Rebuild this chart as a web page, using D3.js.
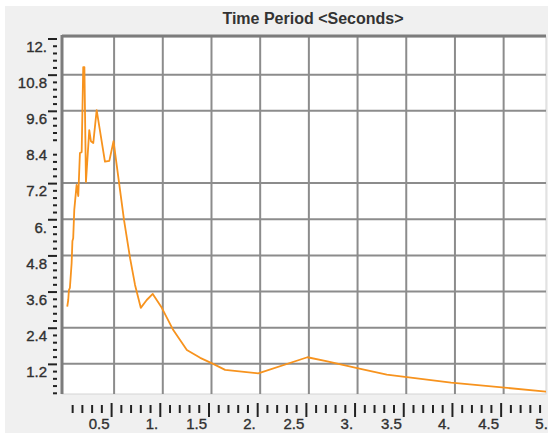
<!DOCTYPE html>
<html>
<head>
<meta charset="utf-8">
<script src="https://cdn.jsdelivr.net/npm/d3@7/dist/d3.min.js"></script>
<style>
  body { margin: 0; background: #ffffff; }
  text { font-family: "Liberation Sans", Arial, sans-serif; fill: #333; }
</style>
</head>
<body>
<svg id="chart"></svg>
<script>
// period (s) and spectral value
const periods = [0.019, 0.029, 0.036, 0.046, 0.064, 0.072, 0.080, 0.091, 0.115, 0.132,
  0.149, 0.167, 0.183, 0.195, 0.211, 0.245, 0.262, 0.286, 0.321, 0.406, 0.451, 0.494,
  0.602, 0.664, 0.715, 0.774, 0.835, 0.897, 0.990, 1.106, 1.247, 1.384, 1.517, 1.640,
  1.980, 2.485, 2.690, 3.030, 3.300, 3.960, 4.935];
const values = [3.10, 3.32, 3.65, 3.72, 4.55, 5.28, 5.37, 6.31, 7.14, 6.77,
  8.20, 8.23, 11.05, 11.05, 7.24, 8.96, 8.59, 8.53, 9.62, 7.91, 7.94, 8.59,
  5.97, 4.71, 3.82, 3.06, 3.32, 3.52, 3.06, 2.33, 1.66, 1.40, 1.20, 1.00,
  0.885, 1.42, 1.28, 1.03, 0.84, 0.58, 0.28];

const xTickValues = [0.5, 1, 1.5, 2, 2.5, 3, 3.5, 4, 4.5, 5];
const xTickLabels = ["0.5", "1.", "1.5", "2.", "2.5", "3.", "3.5", "4.", "4.5", "5."];
const xGridValues = [0.5, 1, 1.5, 2, 2.5, 3, 3.5, 4, 4.5];
const yTickValues = [12, 10.8, 9.6, 8.4, 7.2, 6, 4.8, 3.6, 2.4, 1.2];
const yTickLabels = ["12.", "10.8", "9.6", "8.4", "7.2", "6.", "4.8", "3.6", "2.4", "1.2"];
const yMajorTicks = [12, 10.8, 9.6, 7.2, 6, 4.8, 3.6, 2.4, 1.2];
const yGridValues = [10.8, 9.6, 7.2, 6, 4.8, 3.6, 2.4, 1.2];

const width = 553;
const height = 433;
const plot = { left: 62, right: 546, top: 37, bottom: 394 };

const svg = d3.select("#chart").attr("width", width).attr("height", height);

// grey panel
svg.append("rect")
  .attr("x", 5).attr("y", 6)
  .attr("width", 543).attr("height", height - 6)
  .attr("fill", "#f0f0f0");

const x = d3.scaleLinear().domain([-0.035, 4.935]).range([plot.left, plot.right]);
const y = d3.scaleLinear().domain([0.2, 12.05]).range([plot.bottom, plot.top]);

// plot background
svg.append("rect")
  .attr("x", plot.left).attr("y", plot.top)
  .attr("width", plot.right - plot.left).attr("height", plot.bottom - plot.top)
  .attr("fill", "#fff")
  .attr("stroke", "#d4d4d4");

// grid
svg.append("g")
  .selectAll("line")
  .data(xGridValues)
  .enter()
  .append("line")
  .attr("x1", (d) => x(d)).attr("x2", (d) => x(d))
  .attr("y1", plot.top).attr("y2", plot.bottom)
  .attr("stroke", "#8c8c8c").attr("stroke-width", 2);

svg.append("g")
  .selectAll("line")
  .data(yGridValues)
  .enter()
  .append("line")
  .attr("x1", plot.left).attr("x2", plot.right)
  .attr("y1", (d) => y(d)).attr("y2", (d) => y(d))
  .attr("stroke", "#8c8c8c").attr("stroke-width", 2);

// frame (left + top are heavier)
svg.append("line")
  .attr("x1", plot.left).attr("x2", plot.left)
  .attr("y1", plot.top - 2).attr("y2", plot.bottom)
  .attr("stroke", "#7c7c7c").attr("stroke-width", 3);
svg.append("line")
  .attr("x1", plot.left).attr("x2", plot.right)
  .attr("y1", plot.top - 1).attr("y2", plot.top - 1)
  .attr("stroke", "#7c7c7c").attr("stroke-width", 3);

// curve
svg.append("clipPath").attr("id", "clip")
  .append("rect")
  .attr("x", plot.left).attr("y", plot.top)
  .attr("width", plot.right - plot.left).attr("height", plot.bottom - plot.top);

const line = d3.line()
  .x((d, i) => x(periods[i]))
  .y((d) => y(d));

svg.append("path")
  .datum(values)
  .attr("clip-path", "url(#clip)")
  .attr("fill", "none")
  .attr("stroke", "#f7931e")
  .attr("stroke-width", 1.8)
  .attr("stroke-linejoin", "round")
  .attr("d", line);

// ticks
const yMinor = d3.range(1, 51).map((k) => +(k * 0.24).toFixed(2))
  .filter((v) => yTickValues.indexOf(v) < 0 && v > 0.2);
const xMinor = d3.range(1, 50).map((k) => +(k * 0.1).toFixed(1))
  .filter((v) => xTickValues.indexOf(v) < 0);

const styleTicks = (g) => {
  g.select(".domain").remove();
  g.selectAll("line").attr("stroke", "#222").attr("stroke-width", 2);
};

svg.append("g")
  .attr("transform", "translate(57,0)")
  .call(d3.axisLeft(y).tickValues(yMinor).tickSize(4).tickFormat(""))
  .call(styleTicks);
svg.append("g")
  .attr("transform", "translate(57,0)")
  .call(d3.axisLeft(y).tickValues(yMajorTicks).tickSize(9).tickFormat(""))
  .call(styleTicks);

const yLabels = svg.append("g")
  .attr("transform", "translate(57,0)")
  .call(d3.axisLeft(y).tickValues(yTickValues).tickSize(0).tickPadding(10)
    .tickFormat((d, i) => yTickLabels[i]))
  .call(styleTicks);
yLabels.selectAll("text")
  .attr("dy", "0.85em")
  .style("font-size", "15px")
  .attr("fill", "#2a2a2a")
  .attr("stroke", "#2a2a2a")
  .attr("stroke-width", 0.35);

svg.append("g")
  .attr("transform", "translate(-3,405)")
  .call(d3.axisBottom(x).tickValues(xMinor).tickSize(8).tickFormat(""))
  .call(styleTicks);
svg.append("g")
  .attr("transform", "translate(-3,403)")
  .call(d3.axisBottom(x).tickValues(xTickValues.filter((v) => v < 4.95)).tickSize(14).tickFormat(""))
  .call(styleTicks);

const xLabels = svg.append("g")
  .attr("transform", "translate(-5,0)")
  .call(d3.axisBottom(x).tickValues(xTickValues).tickSize(0)
    .tickFormat((d, i) => xTickLabels[i]))
  .call(styleTicks);
xLabels.selectAll("text")
  .attr("y", 429).attr("dy", 0)
  .attr("text-anchor", "end")
  .style("font-size", "15px")
  .attr("fill", "#2a2a2a")
  .attr("stroke", "#2a2a2a")
  .attr("stroke-width", 0.35);

// title
svg.append("text")
  .attr("x", 313).attr("y", 24)
  .attr("text-anchor", "middle")
  .style("font-size", "16px")
  .style("font-weight", "bold")
  .attr("fill", "#1a1a1a")
  .text("Time Period <Seconds>");
</script>
</body>
</html>
